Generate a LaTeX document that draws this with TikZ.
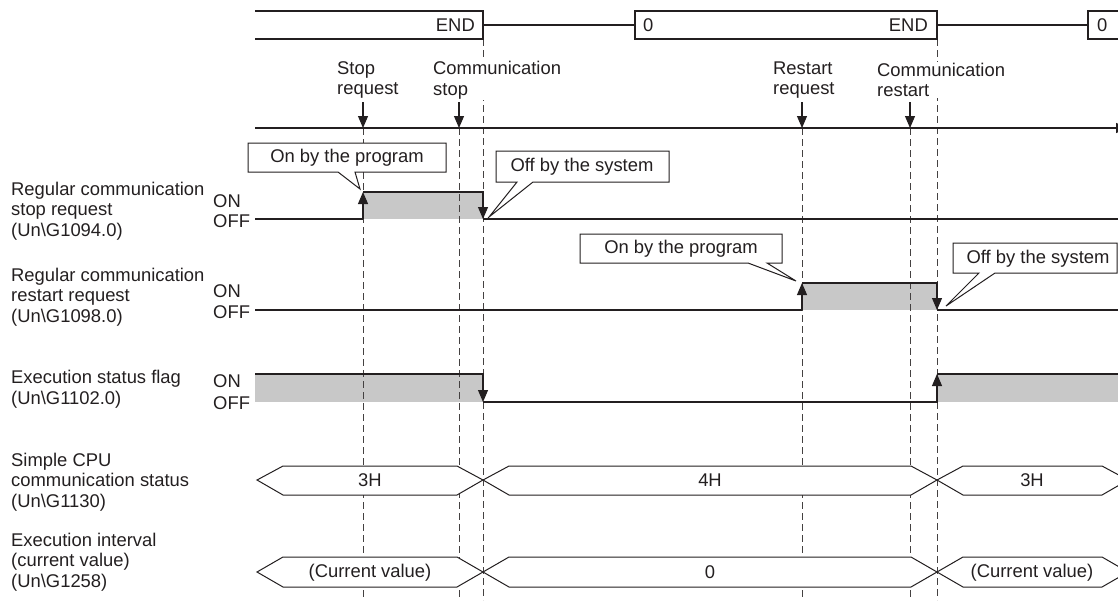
\documentclass[tikz,border=0pt]{standalone}
\usepackage{fontspec}
\setmainfont{Liberation Sans}
\usetikzlibrary{arrows.meta}
\definecolor{sig}{RGB}{200,200,200}
\definecolor{ink}{RGB}{35,31,32}
\begin{document}
\begin{tikzpicture}[x=1pt,y=-1pt,
  every node/.style={text=ink, font=\fontsize{18.4}{20.6}\selectfont},
  ln/.style={draw=ink, line width=1.1pt},
  dl/.style={draw=ink!85, line width=1pt, dash pattern=on 7pt off 4pt},
  arr/.style={-{Triangle[width=10pt,length=12pt]}},
  lbl/.style={anchor=west, align=left, inner sep=0pt},
  evlbl/.style={anchor=west, align=left, inner sep=1pt, fill=white},
  cbox/.style={draw=ink, fill=white, line width=1pt},
  busbox/.style={draw=ink, fill=white, line width=1pt},
  hi/.style={fill=sig}]
\useasboundingbox (0,0) rectangle (1118,600);

% ---- gray ON regions
\fill[hi] (363,192) rectangle (483,219);
\fill[hi] (802,283) rectangle (937,310);
\fill[hi] (255,374) rectangle (483,402);
\fill[hi] (937,374) rectangle (1130,402);

% ---- dashed timing lines
\draw[dl] (363,128) -- (363,600);
\draw[dl] (459,128) -- (459,600);
\draw[dl] (483,39) -- (483,600);
\draw[dl] (802,128) -- (802,600);
\draw[dl] (910,128) -- (910,600);
\draw[dl] (937,39) -- (937,600);

% ---- scan bar
\draw[ln] (255,11) -- (483,11) -- (483,39) -- (255,39);
\draw[ln] (483,25) -- (635,25);
\draw[ln] (635,11) -- (937,11) -- (937,39) -- (635,39) -- cycle;
\draw[ln] (937,25) -- (1088,25);
\draw[ln] (1130,11) -- (1088,11) -- (1088,39) -- (1130,39);
\node[anchor=east, inner sep=0pt] (end1) at (475,25) {END};
\node[anchor=west, inner sep=0pt] (zero1) at (643,25) {0};
\node[anchor=east, inner sep=0pt] (end2) at (928,25) {END};
\node[anchor=west, inner sep=0pt] (zero2) at (1097,25) {0};

% ---- event labels
\node[evlbl] (tStop) at (336,80) {Stop\\request};
\node[evlbl] (tCStop) at (432,80) {Communication\\stop};
\node[evlbl] (tRes) at (772,80) {Restart\\request};
\node[evlbl] (tCRes) at (876,80) {Communication\\restart};

% ---- time axis and event arrows
\coordinate (axL) at (255,128);
\coordinate (axR) at (1128,128);
\draw[ln,arr] (axL) -- (axR);
\coordinate (e1s) at (363,102); \coordinate (e1) at (363,128);
\coordinate (e2s) at (459,102); \coordinate (e2) at (459,128);
\coordinate (e3s) at (802,102); \coordinate (e3) at (802,128);
\coordinate (e4s) at (910,102); \coordinate (e4) at (910,128);
\draw[ln,arr] (e1s) -- (e1);
\draw[ln,arr] (e2s) -- (e2);
\draw[ln,arr] (e3s) -- (e3);
\draw[ln,arr] (e4s) -- (e4);

% ---- signal 1: stop request
\draw[ln] (255,219) -- (363,219);
\draw[ln,arr] (363,219) -- (363,192);
\draw[ln,arr] (363,192) -- (483,192) -- (483,219);
\draw[ln] (483,219) -- (1130,219);

% ---- signal 2: restart request
\draw[ln] (255,310) -- (802,310);
\draw[ln,arr] (802,310) -- (802,283);
\draw[ln,arr] (802,283) -- (937,283) -- (937,310);
\draw[ln] (937,310) -- (1130,310);

% ---- signal 3: execution status flag
\draw[ln,arr] (255,374) -- (483,374) -- (483,402);
\draw[ln,arr] (483,402) -- (937,402) -- (937,374);
\draw[ln] (937,374) -- (1130,374);

% ---- bus 1: simple CPU communication status
\draw[busbox] (257,480) -- (283,466) -- (457,466) -- (483,480) -- (457,495) -- (283,495) -- cycle;
\draw[busbox] (483,480) -- (509,466) -- (911,466) -- (937,480) -- (911,495) -- (509,495) -- cycle;
\draw[busbox] (937,480) -- (963,466) -- (1102,466) -- (1128,480) -- (1102,495) -- (963,495) -- cycle;
\node (b1a) at (370,480) {3H};
\node (b1b) at (710,480) {4H};
\node (b1c) at (1032,480) {3H};

% ---- bus 2: execution interval
\draw[busbox] (257,572) -- (283,557) -- (457,557) -- (483,572) -- (457,587) -- (283,587) -- cycle;
\draw[busbox] (483,572) -- (509,557) -- (911,557) -- (937,572) -- (911,587) -- (509,587) -- cycle;
\draw[busbox] (937,572) -- (963,557) -- (1102,557) -- (1128,572) -- (1102,587) -- (963,587) -- cycle;
\node (b2a) at (370,573) {(Current value)};
\node (b2b) at (710,572) {0};
\node (b2c) at (1032,573) {(Current value)};

% ---- callouts
\draw[cbox] (248,143) -- (446,143) -- (446,172) -- (355,172) -- (360,189) -- (338,172) -- (248,172) -- cycle;
\node (c1) at (347,158) {On by the program};
\draw[cbox] (496,151) -- (669,151) -- (669,182) -- (533,182) -- (489,217) -- (517,182) -- (496,182) -- cycle;
\node (c2) at (582,167) {Off by the system};
\draw[cbox] (580,234) -- (782,234) -- (782,263) -- (767,263) -- (796,281) -- (748,263) -- (580,263) -- cycle;
\node (c3) at (681,249) {On by the program};
\draw[cbox] (953,243) -- (1117,243) -- (1117,273) -- (995,273) -- (946,306) -- (979,273) -- (953,273) -- cycle;
\node (c4) at (1038,259) {Off by the system};

% ---- ON / OFF labels
\node[lbl] (on1) at (213,201) {ON};
\node[lbl] (off1) at (213,221) {OFF};
\node[lbl] (on2) at (213,291) {ON};
\node[lbl] (off2) at (213,312) {OFF};
\node[lbl] (on3) at (213,381) {ON};
\node[lbl] (off3) at (213,403) {OFF};

% ---- signal names
\node[lbl] (n1) at (11,211) {Regular communication\\stop request\\(Un\textbackslash G1094.0)};
\node[lbl] (n2) at (11,297) {Regular communication\\restart request\\(Un\textbackslash G1098.0)};
\node[lbl] (n3) at (11,389) {Execution status flag\\(Un\textbackslash G1102.0)};
\node[lbl] (n4) at (11,482) {Simple CPU\\communication status\\(Un\textbackslash G1130)};
\node[lbl] (n5) at (11,562) {Execution interval\\(current value)\\(Un\textbackslash G1258)};
\end{tikzpicture}
\end{document}
